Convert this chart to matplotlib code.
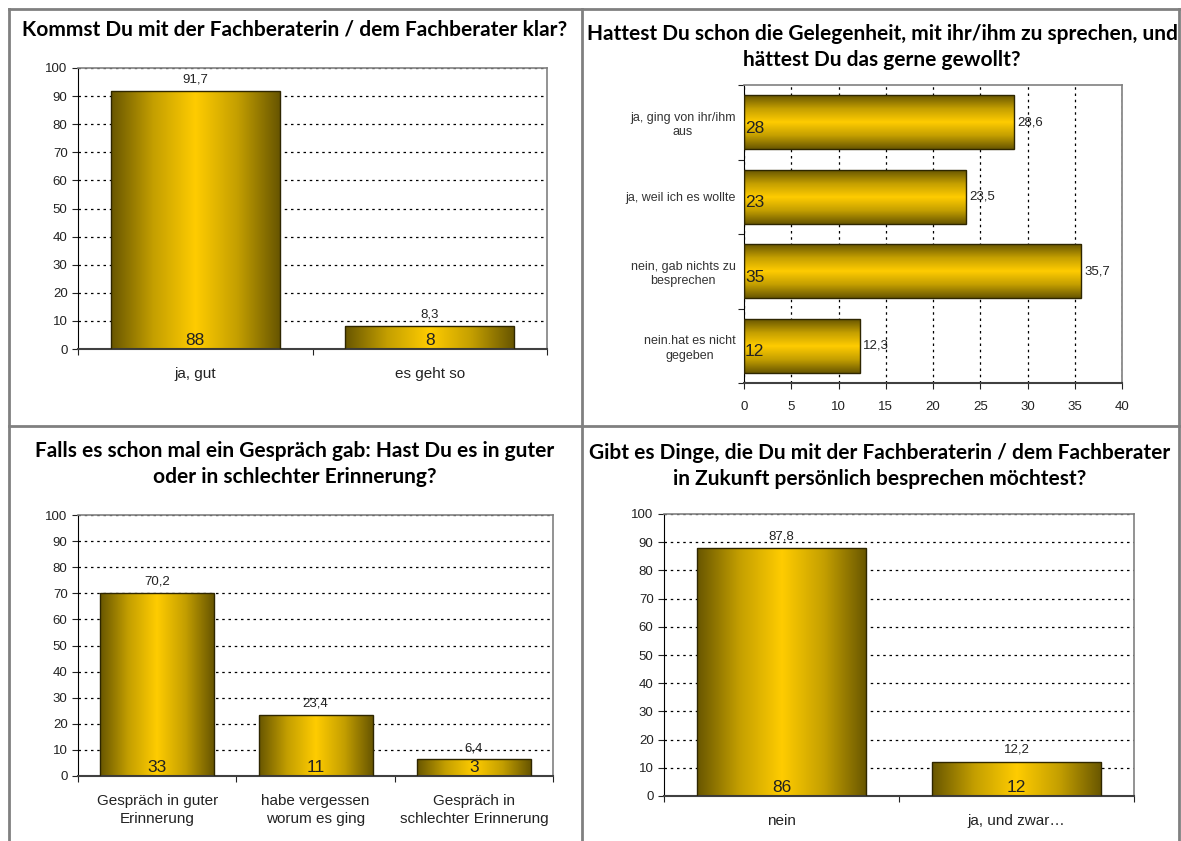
import numpy as np
import matplotlib
matplotlib.use('Agg')
import matplotlib.pyplot as plt
from matplotlib.colors import LinearSegmentedColormap

# data
q1_title = 'Kommst Du mit der Fachberaterin / dem Fachberater klar?'
q1_labels = ['ja, gut', 'es geht so']
q1_pct = [91.7, 8.3]
q1_n = [88, 8]

q2_title = 'Hattest Du schon die Gelegenheit, mit ihr/ihm zu sprechen, und\nhättest Du das gerne gewollt?'
q2_labels = ['ja, ging von ihr/ihm\naus', 'ja, weil ich es wollte',
             'nein, gab nichts zu\nbesprechen', 'nein.hat es nicht\ngegeben']
q2_pct = [28.6, 23.5, 35.7, 12.3]
q2_n = [28, 23, 35, 12]

q3_title = 'Falls es schon mal ein Gespräch gab: Hast Du es in guter\noder in schlechter Erinnerung?'
q3_labels = ['Gespräch in guter\nErinnerung', 'habe vergessen\nworum es ging',
             'Gespräch in\nschlechter Erinnerung']
q3_pct = [70.2, 23.4, 6.4]
q3_n = [33, 11, 3]

q4_title = 'Gibt es Dinge, die Du mit der Fachberaterin / dem Fachberater\nin Zukunft persönlich besprechen möchtest?'
q4_labels = ['nein', 'ja, und zwar…']
q4_pct = [87.8, 12.2]
q4_n = [86, 12]

W, H = 1181, 841
plt.rcParams['font.family'] = ['Liberation Sans', 'DejaVu Sans']
fig = plt.figure(figsize=(W / 100, H / 100), dpi=100)

gold = LinearSegmentedColormap.from_list('gold', ['#685600', '#c49f00', '#ffcc00', '#c49f00', '#685600'])
grad = np.linspace(0, 1, 256)


def fmt(v):
    return f'{v:.1f}'.replace('.', ',')


def box(px_left, px_top, px_right, px_bottom):
    return [px_left / W, 1 - px_bottom / H, (px_right - px_left) / W, (px_bottom - px_top) / H]


def style_axes(ax):
    ax.set_facecolor('white')
    for s in ['top', 'right']:
        ax.spines[s].set_color('#808080')
        ax.spines[s].set_linewidth(1.2)
    ax.spines['left'].set_color('black')
    ax.spines['bottom'].set_color('#404040')
    ax.spines['bottom'].set_linewidth(1.5)
    ax.tick_params(labelsize=9.5, colors='#222222', length=4)


def vbar_chart(rect, labels, pct, n):
    ax = fig.add_axes(rect)
    style_axes(ax)
    x = np.arange(len(pct))
    bars = ax.bar(x, pct, width=0.72, color='none', edgecolor='#2e2600', linewidth=1, zorder=3)
    for b in bars:
        x0, y0 = b.get_x(), b.get_y()
        im = ax.imshow(grad[np.newaxis, :], cmap=gold, aspect='auto', zorder=2,
                       extent=[x0, x0 + b.get_width(), y0, y0 + b.get_height()])
        im.set_clip_path(b)
    for xi, p, c in zip(x, pct, n):
        ax.text(xi, p + 2, fmt(p), ha='center', va='bottom', fontsize=9.5, color='#222222', zorder=4)
        ax.text(xi, 0.3, str(c), ha='center', va='bottom', fontsize=12.5, color='#222222', zorder=4)
    ax.set_xlim(-0.5, len(pct) - 0.5)
    ax.set_ylim(0, 100)
    ax.set_yticks(range(0, 101, 10))
    ax.yaxis.grid(True, linestyle=(0, (2, 3)), color='black', linewidth=0.9, zorder=1)
    ax.set_axisbelow(True)
    ax.set_xticks(np.arange(-0.5, len(pct), 1))
    ax.set_xticklabels([])
    ax.set_xticks(x, minor=True)
    ax.set_xticklabels(labels, minor=True, fontsize=11, color='#222222', linespacing=1.35)
    ax.tick_params(axis='x', which='minor', length=0, pad=13)
    return ax


# panel 1
vbar_chart(box(78, 68, 547, 349), q1_labels, q1_pct, q1_n)
# panel 3
vbar_chart(box(78, 515, 553, 776), q3_labels, q3_pct, q3_n)
# panel 4
vbar_chart(box(664, 514, 1134, 796), q4_labels, q4_pct, q4_n)

# panel 2, horizontal bars
ax = fig.add_axes(box(744, 85, 1122, 383))
style_axes(ax)
y = np.arange(len(q2_pct))
bars = ax.barh(y, q2_pct, height=0.72, color='none', edgecolor='#2e2600', linewidth=1, zorder=3)
for b in bars:
    x0, y0 = b.get_x(), b.get_y()
    im = ax.imshow(grad[:, np.newaxis], cmap=gold, aspect='auto', zorder=2,
                   extent=[x0, x0 + b.get_width(), y0, y0 + b.get_height()])
    im.set_clip_path(b)
for yi, p, c in zip(y, q2_pct, q2_n):
    ax.text(p + 0.3, yi, fmt(p), ha='left', va='center', fontsize=9.5, color='#222222', zorder=4)
    ax.text(0.1, yi + 0.08, str(c), ha='left', va='center', fontsize=12.5, color='#222222', zorder=4)
ax.set_xlim(0, 40)
ax.set_ylim(len(q2_pct) - 0.5, -0.5)
ax.set_xticks(range(0, 41, 5))
ax.xaxis.grid(True, linestyle=(0, (2, 3)), color='black', linewidth=0.9, zorder=1)
ax.set_axisbelow(True)
ax.set_yticks(np.arange(-0.5, len(q2_pct), 1))
ax.set_yticklabels([])
ax.set_yticks(y, minor=True)
ax.set_yticklabels(q2_labels, minor=True, fontsize=9, color='#333333', multialignment='center',
                   linespacing=1.3)
ax.tick_params(axis='y', which='minor', length=0, pad=6)
ax.tick_params(axis='x', pad=9)

# titles
title_kw = dict(family=['Lato', 'DejaVu Sans'], weight='bold', fontsize=15, ha='center', va='center',
                linespacing=1.35)
fig.text(295 / W, 1 - 30 / H, q1_title, **title_kw)
fig.text(882 / W, 1 - 47 / H, q2_title, **title_kw)
fig.text(295 / W, 1 - 464 / H, q3_title, **title_kw)
fig.text(880 / W, 1 - 466 / H, q4_title, **title_kw)

# table borders
line_kw = dict(color='#808080', linewidth=2, transform=fig.transFigure)
fig.add_artist(plt.Line2D([9 / W, 9 / W], [0, 1 - 9 / H], **line_kw))
fig.add_artist(plt.Line2D([1179 / W, 1179 / W], [0, 1 - 9 / H], **line_kw))
fig.add_artist(plt.Line2D([582 / W, 582 / W], [0, 1 - 9 / H], **line_kw))
fig.add_artist(plt.Line2D([9 / W, 1179 / W], [1 - 9 / H, 1 - 9 / H], **line_kw))
fig.add_artist(plt.Line2D([9 / W, 1179 / W], [1 - 426 / H, 1 - 426 / H], **line_kw))

fig.savefig('out.png', dpi=100)
